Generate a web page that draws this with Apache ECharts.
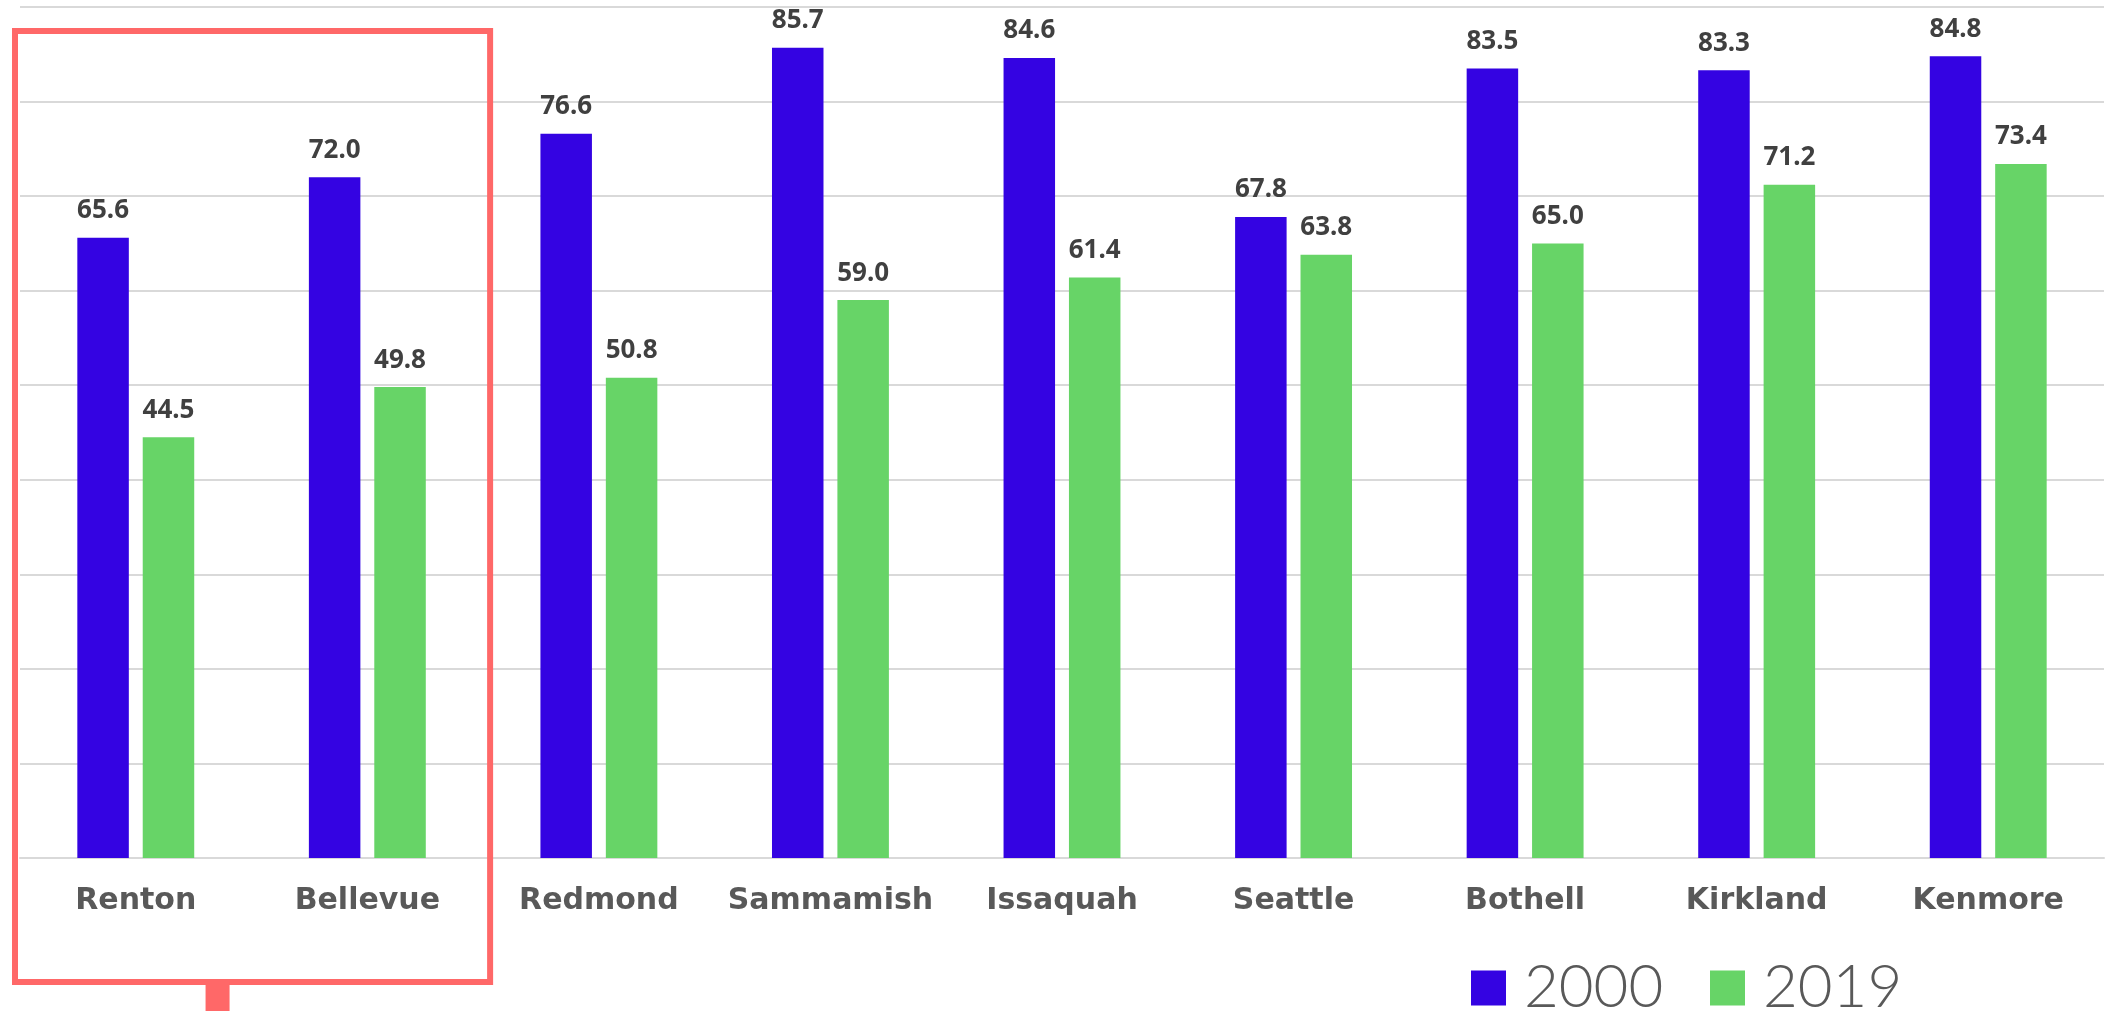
<!DOCTYPE html>
<html>
<head>
<meta charset="utf-8">
<title>Renton and Bellevue vs. neighbours, 2000 and 2019</title>
<script src="https://cdn.jsdelivr.net/npm/echarts@6/dist/echarts.min.js"></script>
<style>
  html, body { margin: 0; padding: 0; background: #ffffff; }
  #chart { width: 2108px; height: 1011px; }
</style>
</head>
<body>
<div id="chart"></div>
<script>
// Cities along the x axis
const cities = ['Renton', 'Bellevue', 'Redmond', 'Sammamish', 'Issaquah', 'Seattle', 'Bothell', 'Kirkland', 'Kenmore'];
// Values per year
const values2000 = [65.6, 72.0, 76.6, 85.7, 84.6, 67.8, 83.5, 83.3, 84.8];
const values2019 = [44.5, 49.8, 50.8, 59.0, 61.4, 63.8, 65.0, 71.2, 73.4];
// Series names shown in the legend
const yearNames = ['2000', '2019'];

const BLUE = '#3403e2';
const GREEN = '#67d467';
const GRID_GRAY = '#d9d9d9';
const HIGHLIGHT = '#ff6868';

const chart = echarts.init(document.getElementById('chart'), null, { renderer: 'canvas' });

const valueLabel = {
  show: true,
  position: 'top',
  distance: 14,
  fontFamily: 'Noto Sans',
  fontWeight: 'bold',
  fontSize: 26,
  color: '#404040',
  formatter: p => p.value.toFixed(1)
};

const legendText = {
  fontFamily: 'Lato',
  fontWeight: 300,
  fontSize: 60,
  color: '#595959',
  padding: [0, 0, 0, 13]
};

chart.setOption({
  animation: false,
  backgroundColor: '#ffffff',
  grid: { left: 20, right: 4, top: 7, bottom: 153 },
  legend: [
    { data: [yearNames[0]], left: 1466, top: 953, icon: 'rect', itemWidth: 35, itemHeight: 35, textStyle: legendText },
    { data: [yearNames[1]], left: 1705, top: 953, icon: 'rect', itemWidth: 35, itemHeight: 35, textStyle: legendText }
  ],
  xAxis: {
    type: 'category',
    data: cities,
    axisLine: { show: true, lineStyle: { color: GRID_GRAY, width: 2 } },
    axisTick: { show: false },
    axisLabel: {
      interval: 0,
      margin: 28,
      fontFamily: 'DejaVu Sans',
      fontWeight: 'bold',
      fontSize: 30,
      color: '#595959'
    }
  },
  yAxis: {
    type: 'value',
    min: 0,
    max: 90,
    interval: 10,
    axisLine: { show: false },
    axisTick: { show: false },
    axisLabel: { show: false },
    splitLine: { show: true, lineStyle: { color: GRID_GRAY, width: 2 } }
  },
  series: [
    {
      name: yearNames[0],
      type: 'bar',
      data: values2000,
      barWidth: 51.5,
      barGap: '27%',
      itemStyle: { color: BLUE },
      label: valueLabel
    },
    {
      name: yearNames[1],
      type: 'bar',
      data: values2019,
      barWidth: 51.5,
      barGap: '27%',
      itemStyle: { color: GREEN },
      label: valueLabel
    }
  ]
});

// Highlight frame around the first two cities, with a short stem below it
const c0 = chart.convertToPixel({ xAxisIndex: 0 }, cities[0]);
const c1 = chart.convertToPixel({ xAxisIndex: 0 }, cities[1]);
const band = c1 - c0;
const boxLeft = c0 - band / 2 - 5;
const boxRight = c1 + band / 2 + 7;
const boxTop = 31;
const boxBottom = 982;
const stemWidth = 24;
const stemCenter = (boxLeft + boxRight) / 2 - 35;

chart.setOption({
  graphic: [
    {
      type: 'rect',
      shape: { x: boxLeft, y: boxTop, width: boxRight - boxLeft, height: boxBottom - boxTop },
      style: { fill: 'none', stroke: HIGHLIGHT, lineWidth: 6 },
      z: 100
    },
    {
      type: 'rect',
      shape: { x: stemCenter - stemWidth / 2, y: boxBottom, width: stemWidth, height: 1011 - boxBottom },
      style: { fill: HIGHLIGHT },
      z: 100
    }
  ]
});
</script>
</body>
</html>
